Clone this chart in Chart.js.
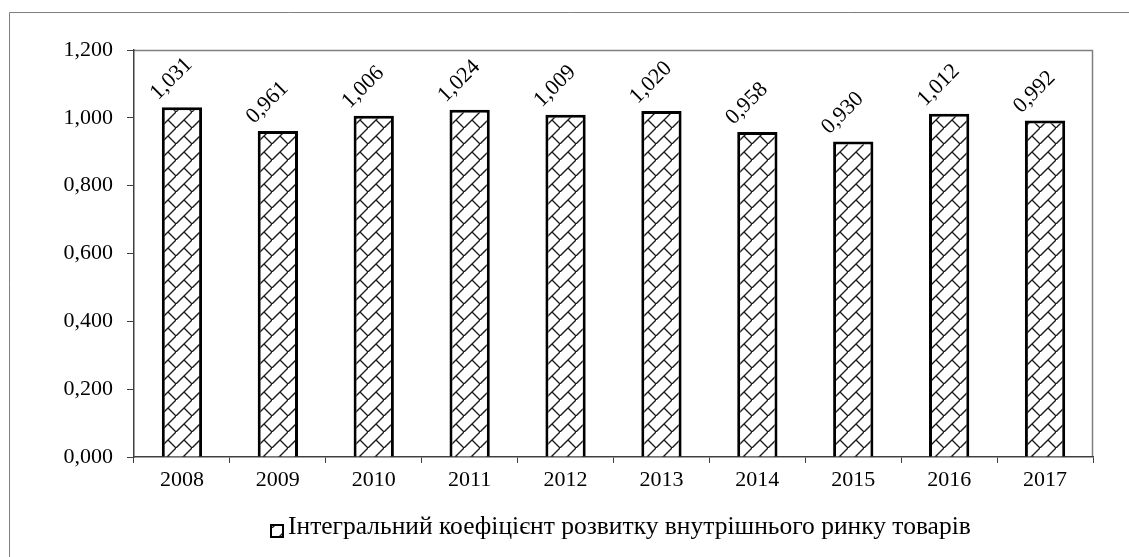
<!DOCTYPE html>
<html>
<head>
<meta charset="utf-8">
<script src="https://cdn.jsdelivr.net/npm/chart.js@4"></script>
<style>
  html, body { margin: 0; padding: 0; background: #fff; }
  #wrap { width: 1129px; height: 557px; position: relative; }
</style>
</head>
<body>
<div id="wrap"><canvas id="chart13" width="1129" height="557"></canvas></div>
<script>
var years = ["2008", "2009", "2010", "2011", "2012", "2013", "2014", "2015", "2016", "2017"];
var values = [1.031, 0.961, 1.006, 1.024, 1.009, 1.020, 0.958, 0.930, 1.012, 0.992];
var seriesLabel = "Інтегральний коефіцієнт розвитку внутрішнього ринку товарів";
var yMin = 0, yMax = 1.2, yStep = 0.2;

var FONT = "'Liberation Serif', 'Times New Roman', serif";

function fmt(v) { // 1.031 -> "1,031"
    return v.toFixed(3).replace('.', ',');
}

// hatch "diagonal brick"
function makeBrick() {
    var s = 16;
    var c = document.createElement('canvas');
    c.width = s; c.height = s;
    var g = c.getContext('2d');
    g.fillStyle = '#fff';
    g.fillRect(0, 0, s, s);
    g.strokeStyle = '#1a1a1a';
    g.lineWidth = 1.4;
    g.beginPath();
    g.moveTo(-1, s + 1); g.lineTo(s + 1, -1);
    g.moveTo(s / 2, s / 2); g.lineTo(s + 1, s + 1);
    g.stroke();
    return g.createPattern(c, 'repeat');
}
var brick = makeBrick();

var frame = { // outer border + top/right plot border
    id: 'frame',
    beforeDraw: function(chart) {
        var ctx = chart.ctx, a = chart.chartArea;
        ctx.save();
        ctx.strokeStyle = '#7f7f7f';
        ctx.lineWidth = 1;
        ctx.beginPath();
        ctx.moveTo(9.5, 557); ctx.lineTo(9.5, 12.5); ctx.lineTo(1129, 12.5);
        ctx.stroke();
        ctx.lineWidth = 1.5;
        ctx.beginPath();
        ctx.moveTo(a.left, a.top + 0.5); ctx.lineTo(a.right - 0.5, a.top + 0.5); ctx.lineTo(a.right - 0.5, a.bottom);
        ctx.stroke();
        ctx.restore();
    }
};

var valueLabels = {
    id: 'valueLabels',
    afterDatasetsDraw: function(chart) {
        var ctx = chart.ctx;
        var meta = chart.getDatasetMeta(0);
        ctx.save();
        ctx.fillStyle = '#000';
        ctx.font = '22px ' + FONT;
        ctx.textAlign = 'right';
        ctx.textBaseline = 'middle';
        meta.data.forEach(function(bar, i) {
            ctx.save();
            ctx.translate(bar.x + 7, bar.y - 46);
            ctx.rotate(-Math.PI / 4);
            ctx.fillText(fmt(values[i]), 0, 0);
            ctx.restore();
        });
        ctx.restore();
    }
};

// legend drawn by hand (it sits off-centre in the original)
var bottomLegend = {
    id: 'bottomLegend',
    afterDraw: function(chart) {
        var ctx = chart.ctx;
        var ds = chart.data.datasets[0];
        ctx.save();
        ctx.fillStyle = ds.backgroundColor;
        ctx.fillRect(271, 525, 12, 12);
        ctx.strokeStyle = '#000';
        ctx.lineWidth = 2;
        ctx.strokeRect(271, 525, 12, 12);
        ctx.fillStyle = '#000';
        ctx.font = '25.5px ' + FONT;
        ctx.textAlign = 'left';
        ctx.textBaseline = 'alphabetic';
        ctx.fillText(ds.label, 288, 534);
        ctx.restore();
    }
};

var ctx = document.getElementById("chart13").getContext('2d');
var chart = new Chart(ctx, {
    type: 'bar',
    data: {
        labels: years,
        datasets: [{
            label: seriesLabel,
            data: values,
            backgroundColor: brick,
            borderColor: '#000',
            borderWidth: 3,
            barPercentage: 0.42,
            categoryPercentage: 1.0
        }]
    },
    options: {
        responsive: false,
        animation: false,
        layout: { padding: { left: 0, top: 50, right: 36, bottom: 48 } },
        scales: {
            x: {
                grid: { offset: true, drawOnChartArea: false, tickLength: 6, color: '#404040', tickColor: '#404040' },
                border: { color: '#404040', width: 1.5 },
                ticks: { color: '#000', font: { family: FONT, size: 22 }, padding: 4 },
                afterFit: function(scale) { scale.height = 52; }
            },
            y: {
                min: yMin, max: yMax,
                grid: { drawOnChartArea: false, tickLength: 7, color: '#404040', tickColor: '#404040' },
                border: { color: '#404040', width: 1.5 },
                ticks: {
                    stepSize: yStep,
                    color: '#000',
                    font: { family: FONT, size: 22 },
                    padding: 14,
                    callback: function(v) { return fmt(v); }
                },
                afterFit: function(scale) { scale.width = 134; }
            }
        },
        plugins: {
            legend: { display: false },
            title: { display: false },
            tooltip: { enabled: false }
        }
    },
    plugins: [frame, valueLabels, bottomLegend]
});
</script>
</body>
</html>
